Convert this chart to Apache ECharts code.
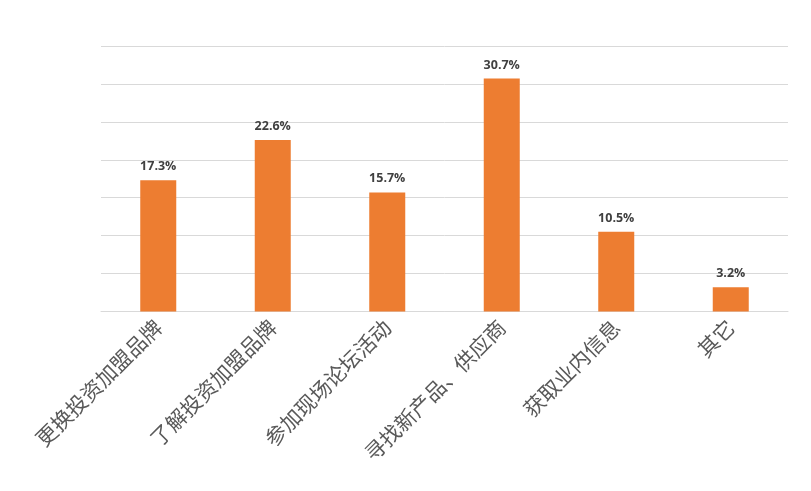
<!DOCTYPE html>
<html>
<head>
<meta charset="utf-8">
<script src="https://cdn.jsdelivr.net/npm/echarts@6/dist/echarts.min.js"></script>
<style>html,body{margin:0;padding:0;background:#fff}#c{width:811px;height:491px}</style>
</head>
<body>
<div id="c"></div>
<script>
const categories = ['更换投资加盟品牌', '了解投资加盟品牌', '参加现场论坛活动', '寻找新产品、供应商', '获取业内信息', '其它'];
const values = [17.3, 22.6, 15.7, 30.7, 10.5, 3.2];

const chart = echarts.init(document.getElementById('c'), null, {renderer: 'canvas'});
chart.setOption({
  animation: false,
  backgroundColor: '#ffffff',
  grid: {left: 101, right: 23, top: 46, bottom: 179.5, containLabel: false},
  xAxis: {
    type: 'category',
    data: categories,
    axisLine: {show: true, lineStyle: {color: '#d9d9d9', width: 1}},
    axisTick: {show: false},
    axisLabel: {
      rotate: 45,
      interval: 0,
      margin: 12,
      color: '#595959',
      fontSize: 21,
      fontFamily: '"Noto Sans CJK SC", sans-serif'
    }
  },
  yAxis: {
    type: 'value',
    min: 0,
    max: 35,
    interval: 5,
    axisLine: {show: false},
    axisTick: {show: false},
    axisLabel: {show: false},
    splitLine: {show: true, lineStyle: {color: '#d9d9d9', width: 1}}
  },
  series: [{
    type: 'bar',
    data: values,
    barWidth: 36,
    itemStyle: {color: '#ED7D31'},
    label: {
      show: true,
      position: 'top',
      distance: 7,
      formatter: p => p.value.toFixed(1) + '%',
      color: '#404040',
      fontSize: 12.5,
      fontWeight: 'bold',
      fontFamily: '"Open Sans", "Noto Sans", sans-serif'
    }
  }]
});
</script>
</body>
</html>
